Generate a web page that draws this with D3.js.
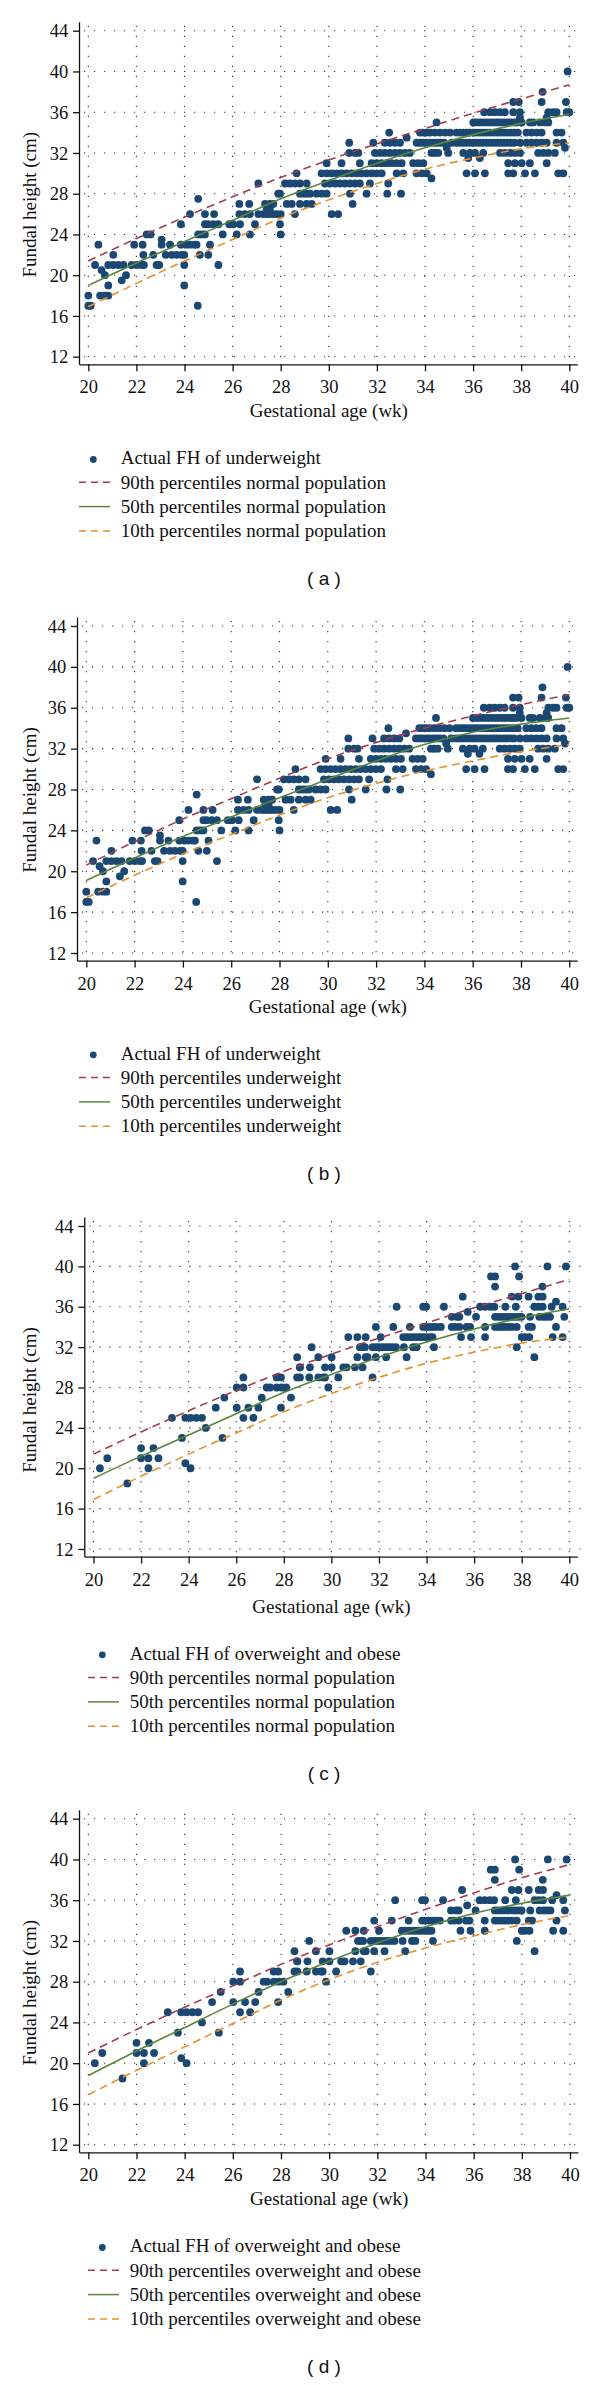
<!DOCTYPE html>
<html>
<head>
<meta charset="utf-8">
<script src="https://cdn.jsdelivr.net/npm/d3@7"></script>
<style>
body { margin: 0; background: #fff; }
svg { display: block; background: #fff; }
</style>
</head>
<body>
<div id="output"></div>
<script>
// ---- data ----
var weeks = [20, 22, 24, 26, 28, 30, 32, 34, 36, 38, 40];
var fhTicks = [12, 16, 20, 24, 28, 32, 36, 40, 44];

// percentile curves, one value per 2 weeks
var p90Normal = [21.4, 23.6, 25.7, 27.7, 29.6, 31.3, 32.9, 34.4, 35.9, 37.3, 38.7];
var p50Normal = [19.0, 21.2, 23.3, 25.4, 27.5, 29.3, 31.0, 32.5, 33.8, 34.9, 35.8];
var p10Normal = [16.9, 19.2, 21.4, 23.5, 25.6, 27.4, 29.0, 30.4, 31.5, 32.4, 33.0];

var p90Under = [20.6, 22.9, 25.1, 27.1, 29.1, 31.0, 32.6, 34.0, 35.2, 36.3, 37.3];
var p50Under = [19.1, 21.3, 23.4, 25.3, 27.2, 29.0, 30.8, 32.4, 33.6, 34.4, 35.0];
var p10Under = [17.4, 19.6, 21.7, 23.6, 25.5, 27.2, 28.6, 29.8, 30.8, 31.7, 32.4];

var p90Over = [21.0, 23.3, 25.5, 27.6, 29.7, 31.6, 33.4, 35.1, 36.7, 38.2, 39.5];
var p50Over = [18.8, 21.2, 23.5, 25.8, 28.0, 30.0, 31.8, 33.4, 34.7, 35.7, 36.5];
var p10Over = [16.9, 19.3, 21.6, 23.9, 26.2, 28.2, 29.9, 31.3, 32.5, 33.6, 34.5];

// [gestational week, fundal height cm]
var underweightPts = [
  [39.93,40],[38.89,38],
  [37.67,37],[37.9,37],[38.85,37],[39.86,37],
  [36.46,36],[36.7,36],[36.91,36],[37.12,36],[37.32,36],[37.67,36],[37.95,36],[39.13,36],[39.33,36],[39.47,36],[39.89,36],[40.0,36],
  [37.95,35.5],[39.06,35.5],
  [34.48,35],[36.01,35],[36.15,35],[36.29,35],[36.43,35],[36.57,35],[36.71,35],[36.86,35],[37.0,35],[37.14,35],[37.29,35],[37.43,35],[37.57,35],[37.71,35],[37.81,35],[38.02,35],[38.36,35],[38.5,35],[38.78,35],[38.99,35],[39.13,35],
  [32.51,34],[33.79,34],[33.93,34],[34.07,34],[34.21,34],[34.41,34],[34.62,34],[34.83,34],[35.04,34],[35.31,34],[35.45,34],[35.59,34],[35.73,34],[35.87,34],[36.01,34],[36.15,34],[36.29,34],[36.43,34],[36.57,34],[36.71,34],[36.86,34],[37.0,34],[37.14,34],[37.29,34],[37.43,34],[37.57,34],[37.71,34],[37.86,34],[38.22,34],[38.43,34],[38.64,34],[38.85,34],[39.47,34],[39.68,34],
  [33.24,33.5],
  [30.85,33],[31.85,33],[32.33,33],[32.54,33],[32.75,33],[32.96,33],[33.65,33],[33.79,33],[33.93,33],[34.07,33],[34.21,33],[34.36,33],[34.5,33],[34.64,33],[34.79,33],[35.11,33],[35.29,33],[35.43,33],[35.57,33],[35.71,33],[35.86,33],[36.0,33],[36.14,33],[36.29,33],[36.43,33],[36.57,33],[36.71,33],[36.86,33],[37.0,33],[37.14,33],[37.29,33],[37.43,33],[37.57,33],[37.71,33],[37.95,33],[38.22,33],[38.43,33],[38.64,33],[38.85,33],[39.06,33],[39.47,33],[39.75,33],
  [34.9,32.5],[39.82,32.5],
  [30.85,32],[31.09,32],[31.23,32],[31.92,32],[32.13,32],[32.33,32],[32.54,32],[32.75,32],[32.96,32],[33.17,32],[33.37,32],[34.27,32],[34.41,32],[34.55,32],[34.97,32],[35.59,32],[35.87,32],[36.08,32],[36.42,32],[37.12,32],[37.32,32],[37.53,32],[37.74,32],[37.95,32],[38.71,32],[38.92,32],[39.13,32],[39.4,32],
  [35.8,31.5],[36.28,31.5],
  [29.91,31],[30.53,31],[31.29,31],[31.78,31],[31.99,31],[32.2,31],[32.4,31],[32.61,31],[32.82,31],[33.03,31],[33.51,31],[33.72,31],[33.93,31],[37.46,31],[37.74,31],[38.02,31],[38.36,31],[39.06,31],
  [28.66,30],[29.7,30],[29.91,30],[30.12,30],[30.32,30],[30.53,30],[30.74,30],[30.95,30],[31.16,30],[31.36,30],[31.57,30],[31.78,30],[31.99,30],[32.2,30],[32.82,30],[33.1,30],[33.65,30],[33.86,30],[34.07,30],[35.73,30],[36.08,30],[36.49,30],[37.46,30],[37.67,30],[38.16,30],[38.57,30],[39.54,30],[39.75,30],
  [34.27,29.5],
  [27.07,29],[28.18,29],[28.39,29],[28.59,29],[28.8,29],[29.08,29],[29.84,29],[30.05,29],[30.26,29],[30.46,29],[30.67,29],[30.88,29],[31.09,29],[31.29,29],[31.71,29],[32.47,29],
  [27.9,28],[27.97,28],[28.8,28],[28.94,28],[29.08,28],[29.22,28],[29.49,28],[29.7,28],[29.91,28],[30.88,28],[31.57,28],[32.43,28],[33.0,28],
  [24.57,27.5],
  [26.28,27],[26.69,27],[27.35,27],[27.55,27],[27.69,27],[28.25,27],[28.46,27],[28.8,27],[29.08,27],[29.29,27],[30.99,27],
  [27.42,26.5],[27.55,26.5],
  [24.23,26],[24.85,26],[25.23,26],[26.28,26],[26.51,26],[26.72,26],[27.07,26],[27.28,26],[27.42,26],[27.55,26],[27.69,26],[27.83,26],[28.0,26],[28.59,26],[30.12,26],[30.39,26],
  [23.85,25],[24.85,25],[24.99,25],[25.2,25],[25.41,25],[25.86,25],[26.03,25],[26.31,25],[26.93,25],[27.97,25],
  [22.43,24],[22.59,24],[24.57,24],[24.71,24],[24.85,24],[25.59,24],[26.17,24],[26.72,24],[28.0,24],
  [23.05,23.5],
  [20.42,23],[21.91,23],[22.26,23],[23.05,23],[23.4,23],[23.85,23],[24.06,23],[24.23,23],[24.41,23],[24.5,23],[25.06,23],
  [21.04,22],[22.29,22],[22.7,22],[23.22,22],[23.47,22],[23.67,22],[23.88,22],[23.99,22],[24.64,22],[24.99,22],
  [20.28,21],[20.83,21],[21.04,21],[21.25,21],[21.46,21],[21.8,21],[22.01,21],[22.22,21],[22.31,21],[22.84,21],[22.95,21],[23.99,21],[25.41,21],
  [20.55,20.5],[20.69,20],[21.57,20],[21.39,19.5],[20.83,19],[23.99,19],
  [20.0,18],[20.49,18],[20.69,18],[20.83,18],
  [20.0,17],[20.1,17],[24.55,17]
];

var overweightPts = [
  [20.27,20],[20.58,21],[21.42,18.5],[22.0,22],[22.0,21],[22.31,21],[22.73,21],[22.31,20],[22.52,22],
  [23.3,25],[23.72,23],[23.86,20.5],[24.08,20],[23.86,25],[24.08,25],[24.32,25],[24.56,25],[24.72,24],
  [25.14,26],[25.42,23],[25.5,27],[26.02,28],[26.02,26],[26.3,29],[26.3,28],[26.3,25],[26.51,26],[26.72,25],
  [26.93,26],[27.07,27],[27.28,28],[27.42,28],[27.7,29],[27.88,29],[27.7,28],[27.9,28],[28.1,28],[27.88,26],
  [28.3,27],[28.56,31],[28.56,29],[28.67,30],
  [37.72,40],[39.08,40],[39.86,40],
  [36.71,39],[36.88,39],[37.89,39],
  [36.88,38],[38.87,38],
  [35.52,37],[37.58,37],[37.86,37],[38.29,37],[38.7,37],[38.88,37],
  [39.44,36.5],
  [32.74,36],[33.86,36],[33.98,36],[34.73,36],[36.25,36],[36.46,36],[36.67,36],[36.85,36],[37.31,36],[37.75,36],[38.53,36],[38.7,36],[38.88,36],[39.26,36],[39.72,36],
  [35.73,35.5],
  [35.06,35],[35.27,35],[35.38,35],[36.08,35],[36.88,35],[37.02,35],[37.16,35],[37.3,35],[37.44,35],[37.58,35],[37.72,35],[37.86,35],[37.99,35],[38.35,35],[38.74,35],[38.91,35],[39.05,35],[39.19,35],[39.79,35],
  [31.87,34],[32.6,34],[33.3,34],[33.86,34],[34.0,34],[34.14,34],[34.28,34],[34.42,34],[34.6,34],[35.06,34],[35.2,34],[35.38,34],[35.68,34],[35.83,34],[36.46,34],[36.88,34],[37.02,34],[37.16,34],[37.3,34],[37.44,34],[37.58,34],[37.79,34],[38.29,34],[38.43,34],[39.44,34],
  [30.71,33],[31.09,33],[31.44,33],[32.07,33],[33.02,33],[33.16,33],[33.3,33],[33.44,33],[33.58,33],[33.72,33],[33.86,33],[34.0,33],[34.14,33],[34.25,33],[35.45,33],[35.87,33],[36.46,33],[38.0,33],[38.14,33],[38.32,33],[39.3,33],[39.72,33],
  [29.17,32],[31.2,32],[31.31,32],[31.41,32],[31.73,32],[31.87,32],[32.0,32],[32.14,32],[32.28,32],[32.42,32],[32.56,32],[32.71,32],[33.05,32],[33.44,32],[33.58,32],[34.31,32],[37.79,32],
  [29.45,31],[30.01,31],[31.09,31],[31.44,31],[31.52,31],[31.87,31],[32.3,31],[33.16,31],[38.53,31],
  [28.68,30],[29.1,30],[29.73,30],[30.01,30],[30.5,30],[30.64,30],[30.99,30],[31.31,30],
  [28.68,29],[29.07,29],[29.45,29],[29.66,29],[29.73,29],[30.29,29],[31.73,29],
  [29.87,28]
];

var legendA = ["Actual FH of underweight", "90th percentiles normal population", "50th percentiles normal population", "10th percentiles normal population"];
var legendB = ["Actual FH of underweight", "90th percentiles underweight", "50th percentiles underweight", "10th percentiles underweight"];
var legendC = ["Actual FH of overweight and obese", "90th percentiles normal population", "50th percentiles normal population", "10th percentiles normal population"];
var legendD = ["Actual FH of overweight and obese", "90th percentiles overweight and obese", "50th percentiles overweight and obese", "10th percentiles overweight and obese"];

// ---- drawing ----
var serif = "'Liberation Serif', 'Times New Roman', serif";
var dotColor = "#1b4872";
var red = "#a53b4d", green = "#5b863b", orange = "#e8902a";

var svg = d3.select("#output").append("svg")
    .attr("width", 600)
    .attr("height", 2385);

function Panel(p) {
    var x = d3.scaleLinear().domain([20, 40]).range([p.xL, p.xR]);
    var y = d3.scaleLinear().domain([12, 44]).range([p.top + p.h, p.top]);

    var axisY = y(12) + 7.6;
    var xEnd = p.xR + 8;
    var yTop = p.top - 9;

    // same mapping, domain stretched so the axis lines run past the end ticks
    var xAx = x.copy().domain([x.invert(p.axisX), x.invert(xEnd)]).range([p.axisX, xEnd]);
    var yAx = y.copy().domain([y.invert(axisY), y.invert(yTop)]).range([axisY, yTop]);

    var g = svg.append("g");

    // dotted grid
    g.append("g").selectAll("line")
        .data(fhTicks)
        .enter()
        .append("line")
        .attr("x1", p.axisX + 5)
        .attr("x2", xEnd + 3)
        .attr("y1", function (d) { return y(d) })
        .attr("y2", function (d) { return y(d) })
        .attr("stroke", "#333")
        .attr("stroke-width", 1.1)
        .attr("stroke-dasharray", "1.2,8.8");

    g.append("g").selectAll("line")
        .data(weeks)
        .enter()
        .append("line")
        .attr("x1", function (d) { return x(d) })
        .attr("x2", function (d) { return x(d) })
        .attr("y1", yTop + 4)
        .attr("y2", axisY - 3)
        .attr("stroke", "#333")
        .attr("stroke-width", 1.1)
        .attr("stroke-dasharray", "1.2,8.8");

    // axes
    var xAxis = d3.axisBottom(xAx)
        .tickValues(weeks)
        .tickSize(7)
        .tickSizeOuter(0);

    var yAxis = d3.axisLeft(yAx)
        .tickValues(fhTicks)
        .tickSize(6)
        .tickSizeOuter(0)
        .tickPadding(4.7);

    var gx = g.append("g")
        .attr("transform", "translate(0," + axisY + ")")
        .call(xAxis);
    gx.selectAll("text").attr("y", 29).attr("dy", null);

    var gy = g.append("g")
        .attr("transform", "translate(" + p.axisX + ",0)")
        .call(yAxis);
    gy.selectAll("text").attr("dy", "0.33em");

    [gx, gy].forEach(function (a) {
        a.attr("font-family", serif).attr("font-size", 18.5);
        a.selectAll("text").attr("fill", "#111");
        a.selectAll("path, line").attr("stroke", "#111").attr("stroke-width", 1.3);
    });

    g.append("text")
        .attr("x", x(30))
        .attr("y", p.top + 386.5)
        .attr("text-anchor", "middle")
        .attr("font-family", serif)
        .attr("font-size", 19)
        .attr("fill", "#111")
        .text("Gestational age (wk)");

    g.append("text")
        .attr("transform", "translate(36," + (p.top + 174) + ") rotate(-90)")
        .attr("text-anchor", "middle")
        .attr("font-family", serif)
        .attr("font-size", 19)
        .attr("fill", "#111")
        .text("Fundal height (cm)");

    // points
    g.append("g").selectAll("circle")
        .data(p.pts)
        .enter()
        .append("circle")
        .attr("cx", function (d) { return x(d[0]) })
        .attr("cy", function (d) { return y(d[1]) })
        .attr("r", 3.9)
        .attr("fill", dotColor);

    // percentile curves
    var line = d3.line()
        .x(function (d, i) { return x(weeks[i]) })
        .y(function (d) { return y(d) })
        .curve(d3.curveMonotoneX);

    var curves = [
        {v: p.p10, c: orange, dash: "8,5"},
        {v: p.p50, c: green, dash: null},
        {v: p.p90, c: red, dash: "8,5"}
    ];
    curves.forEach(function (k) {
        g.append("path")
            .attr("d", line(k.v))
            .attr("fill", "none")
            .attr("stroke", k.c)
            .attr("stroke-width", 1.6)
            .attr("stroke-dasharray", k.dash);
    });

    // legend
    var lg = g.append("g").attr("transform", "translate(" + p.legX + "," + (p.top + 433.6) + ")");
    var rowGap = 24.3;
    var styles = [null, {c: red, dash: "7,5"}, {c: green, dash: null}, {c: orange, dash: "7,5"}];
    p.legend.forEach(function (label, i) {
        var yy = i * rowGap;
        if (i === 0) {
            lg.append("circle")
                .attr("cx", 14.3)
                .attr("cy", yy - 4.8)
                .attr("r", 3.4)
                .attr("fill", dotColor);
        } else {
            lg.append("line")
                .attr("x1", 0)
                .attr("x2", 31)
                .attr("y1", yy - 6.3)
                .attr("y2", yy - 6.3)
                .attr("stroke", styles[i].c)
                .attr("stroke-width", 1.5)
                .attr("stroke-dasharray", styles[i].dash);
        }
        lg.append("text")
            .attr("x", 41.7)
            .attr("y", yy)
            .attr("font-family", serif)
            .attr("font-size", 19)
            .attr("fill", "#111")
            .text(label);
    });

    g.append("text")
        .attr("x", 324)
        .attr("y", p.top + 554)
        .attr("text-anchor", "middle")
        .attr("font-family", "'Liberation Sans', Arial, sans-serif")
        .attr("font-size", 19)
        .attr("fill", "#111")
        .attr("xml:space", "preserve")
        .style("white-space", "pre")
        .text("( " + p.letter + " )");
}

Panel({top: 30.7, h: 326, xL: 88.3, xR: 569.3, axisX: 79, legX: 79,
       pts: underweightPts, p90: p90Normal, p50: p50Normal, p10: p10Normal, legend: legendA, letter: "a"});
Panel({top: 626, h: 327, xL: 86.3, xR: 569.3, axisX: 77, legX: 79,
       pts: underweightPts, p90: p90Under, p50: p50Under, p10: p10Under, legend: legendB, letter: "b"});
Panel({top: 1226, h: 323, xL: 93.5, xR: 569.3, axisX: 84.3, legX: 88,
       pts: overweightPts, p90: p90Normal, p50: p50Normal, p10: p10Normal, legend: legendC, letter: "c"});
Panel({top: 1818.7, h: 326, xL: 88.3, xR: 570, axisX: 79, legX: 88,
       pts: overweightPts, p90: p90Over, p50: p50Over, p10: p10Over, legend: legendD, letter: "d"});
</script>
</body>
</html>
